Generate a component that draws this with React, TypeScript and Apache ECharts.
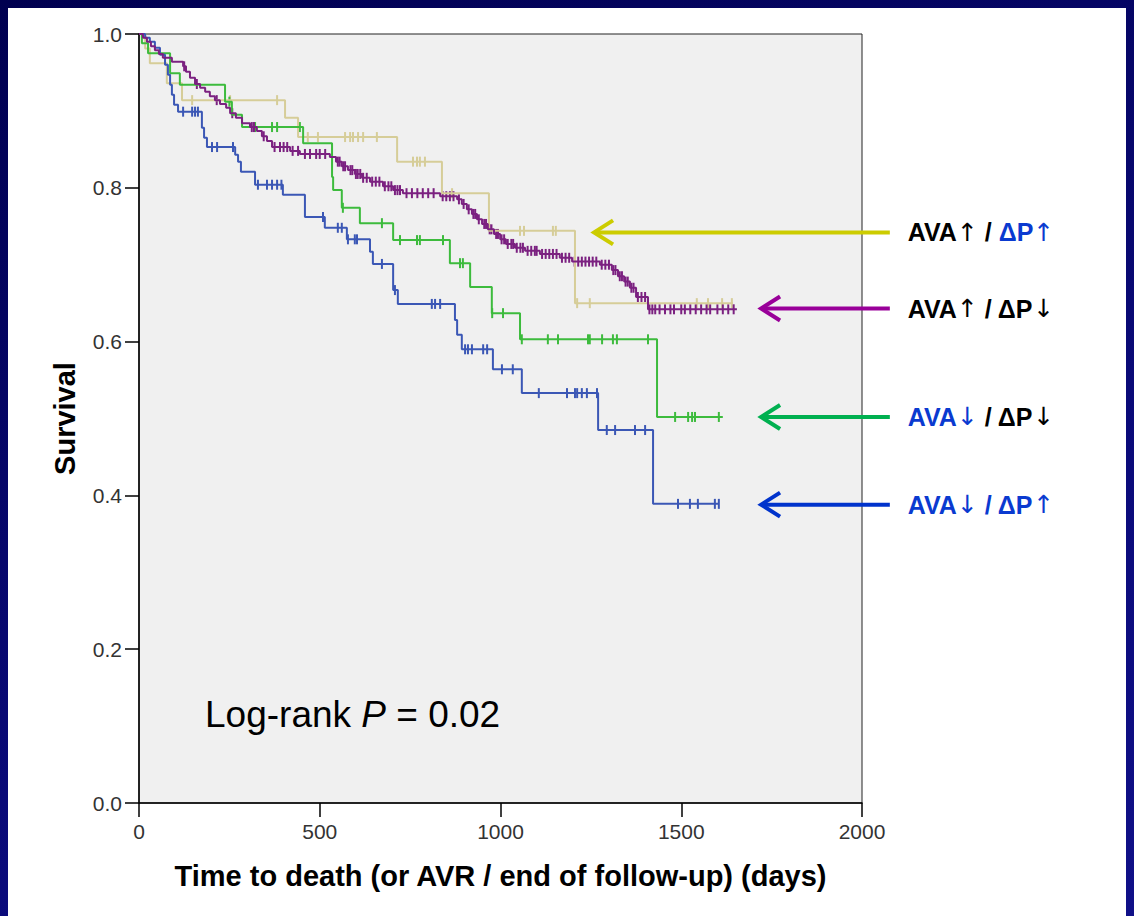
import React, { useEffect, useRef } from 'react';
import * as echarts from 'echarts';

const FONT = '"Liberation Sans", Arial, Helvetica, sans-serif';
const ARROW_FONT = '"DejaVu Sans", sans-serif';

// ---- Kaplan-Meier step data (days, survival) ----
const khakiTimes = [0, 17, 30, 77, 119, 404, 440, 714, 838, 968, 1206, 1643];
const khakiSurv = [1, 0.981, 0.962, 0.936, 0.914, 0.891, 0.866, 0.834, 0.793, 0.744, 0.65, 0.65];
const khakiCensor = [147, 252, 382, 467, 495, 570, 584, 592, 606, 620, 658, 758, 769, 777, 791, 866, 1054, 1065, 1145, 1153, 1212, 1247, 1543, 1574, 1613, 1640];

const purpleTimes = [0, 11, 22, 33, 44, 55, 66, 91, 122, 130, 141, 155, 169, 183, 196, 210, 224, 241, 252, 268, 285, 307, 326, 340, 354, 368, 418, 445, 528, 545, 561, 578, 597, 617, 639, 675, 703, 730, 833, 880, 893, 907, 921, 935, 949, 965, 982, 999, 1015, 1040, 1068, 1109, 1164, 1198, 1275, 1308, 1325, 1342, 1358, 1375, 1408, 1654];
const purpleSurv = [1, 0.995, 0.99, 0.984, 0.979, 0.974, 0.969, 0.964, 0.958, 0.951, 0.943, 0.935, 0.93, 0.925, 0.919, 0.914, 0.909, 0.904, 0.897, 0.891, 0.884, 0.879, 0.874, 0.867, 0.861, 0.853, 0.848, 0.844, 0.84, 0.834, 0.828, 0.823, 0.818, 0.813, 0.808, 0.802, 0.797, 0.793, 0.789, 0.785, 0.779, 0.772, 0.766, 0.759, 0.753, 0.746, 0.74, 0.733, 0.727, 0.722, 0.718, 0.714, 0.709, 0.704, 0.7, 0.693, 0.685, 0.678, 0.67, 0.658, 0.642, 0.642];
const purpleCensor = [125, 160, 215, 258, 312, 318, 345, 375, 390, 400, 410, 425, 440, 459, 473, 490, 500, 515, 550, 555, 565, 570, 585, 590, 600, 605, 612, 620, 630, 645, 655, 665, 680, 690, 698, 708, 715, 722, 740, 755, 770, 785, 800, 815, 840, 850, 860, 870, 885, 898, 912, 925, 930, 940, 955, 960, 970, 975, 988, 993, 1003, 1010, 1020, 1030, 1035, 1045, 1055, 1062, 1075, 1085, 1095, 1100, 1115, 1125, 1135, 1145, 1155, 1170, 1180, 1190, 1205, 1215, 1225, 1235, 1245, 1255, 1265, 1280, 1290, 1300, 1312, 1318, 1330, 1336, 1346, 1352, 1362, 1368, 1380, 1390, 1400, 1412, 1420, 1428, 1440, 1455, 1470, 1480, 1500, 1510, 1525, 1540, 1555, 1570, 1580, 1600, 1615, 1630, 1645];

const greenTimes = [0, 8, 25, 86, 113, 238, 257, 285, 454, 534, 537, 561, 611, 703, 860, 916, 976, 1054, 1433, 1615];
const greenSurv = [1, 0.988, 0.975, 0.949, 0.934, 0.912, 0.895, 0.879, 0.858, 0.814, 0.797, 0.774, 0.754, 0.732, 0.702, 0.671, 0.637, 0.603, 0.502, 0.502];
const greenCensor = [250, 321, 368, 382, 445, 564, 672, 722, 769, 777, 841, 888, 896, 977, 1007, 1059, 1131, 1159, 1242, 1247, 1281, 1311, 1322, 1408, 1483, 1519, 1530, 1538, 1604];

const blueTimes = [0, 17, 30, 44, 58, 72, 80, 86, 91, 97, 108, 174, 180, 188, 266, 274, 282, 321, 398, 459, 514, 575, 639, 647, 703, 716, 874, 880, 893, 979, 1059, 1270, 1422, 1604];
const blueSurv = [1, 0.995, 0.99, 0.982, 0.973, 0.96, 0.947, 0.934, 0.921, 0.908, 0.899, 0.878, 0.865, 0.853, 0.843, 0.834, 0.821, 0.804, 0.791, 0.762, 0.748, 0.733, 0.717, 0.701, 0.667, 0.649, 0.628, 0.609, 0.59, 0.564, 0.533, 0.485, 0.389, 0.389];
const blueCensor = [122, 147, 155, 163, 202, 216, 260, 329, 354, 368, 382, 394, 509, 550, 561, 578, 597, 603, 672, 708, 810, 819, 833, 902, 910, 921, 952, 963, 1004, 1034, 1106, 1184, 1206, 1212, 1225, 1239, 1267, 1294, 1317, 1372, 1400, 1491, 1524, 1546, 1593, 1604];

// ---- axis ticks ----
const xTickValues = [0, 500, 1000, 1500, 2000];
const yTickValues = [0, 0.2, 0.4, 0.6, 0.8, 1.0];

// ---- annotations ----
const arrowLevels = [0.742, 0.643, 0.502, 0.388];
const arrowTipDays = [1256, 1718, 1718, 1718];
const arrowTailDay = 2077;
const arrowColors = ['#cccc00', '#990099', '#00b050', '#0033cc'];
const arrowLabels = [
  '{k|AVA}{ka|↑}{k| / }{b|ΔP}{ba|↑}',
  '{k|AVA}{ka|↑}{k| / ΔP}{ka|↓}',
  '{b|AVA}{ba|↓}{k| / ΔP}{ka|↓}',
  '{b|AVA}{ba|↓}{b| / ΔP}{ba|↑}',
];

const COLORS = {
  khaki: '#d6cd98',
  purple: '#7b2180',
  green: '#3dbb3d',
  blue: '#3b57b5',
};

function survAt(times: number[], surv: number[], t: number) {
  let v = surv[0];
  for (let i = 0; i < times.length; i++) {
    if (times[i] <= t) v = surv[i];
  }
  return v;
}

function stepSeries(name: string, times: number[], surv: number[], color: string) {
  return {
    name,
    type: 'line',
    step: 'end',
    showSymbol: false,
    symbol: 'none',
    data: times.map((t, i) => [t, surv[i]]),
    lineStyle: { color, width: 2 },
    itemStyle: { color },
    silent: true,
  };
}

function censorSeries(name: string, times: number[], surv: number[], censor: number[], color: string) {
  return {
    name: name + ' censored',
    type: 'scatter',
    symbol: 'rect',
    symbolSize: [2, 10],
    data: censor.map((t) => [t, survAt(times, surv, t)]),
    itemStyle: { color, opacity: 1 },
    silent: true,
  };
}

export default function App() {
  const ref = useRef<HTMLDivElement>(null);

  useEffect(() => {
    if (!ref.current) return;
    const chart = echarts.init(ref.current, undefined, { renderer: 'svg' });
    const option: any = {
      animation: false,
      backgroundColor: 'transparent',
      grid: {
        left: 139,
        top: 34,
        right: 272,
        bottom: 113,
        show: true,
        backgroundColor: '#f0f0f0',
        borderColor: '#222',
        borderWidth: 1,
      },
      xAxis: {
        type: 'value',
        min: xTickValues[0],
        max: xTickValues[xTickValues.length - 1],
        interval: 500,
        axisLine: { show: true, onZero: false, lineStyle: { color: '#000', width: 1.5 } },
        axisTick: { show: true, length: 14, lineStyle: { color: '#000', width: 1.5 } },
        axisLabel: {
          color: '#333',
          fontSize: 21,
          fontFamily: FONT,
          margin: 18,
          formatter: (v: number) => String(v),
        },
        splitLine: { show: false },
        name: 'Time to death (or AVR / end of follow-up) (days)',
        nameLocation: 'middle',
        nameGap: 58,
        nameTextStyle: { fontSize: 29, fontWeight: 'bold', color: '#000', fontFamily: FONT },
      },
      yAxis: {
        type: 'value',
        min: yTickValues[0],
        max: yTickValues[yTickValues.length - 1],
        interval: 0.2,
        axisLine: { show: true, onZero: false, lineStyle: { color: '#000', width: 1.5 } },
        axisTick: { show: true, length: 14, lineStyle: { color: '#000', width: 1.5 } },
        axisLabel: {
          color: '#333',
          fontSize: 21,
          fontFamily: FONT,
          margin: 17,
          formatter: (v: number) => v.toFixed(1),
        },
        splitLine: { show: false },
        name: 'Survival',
        nameLocation: 'middle',
        nameGap: 60,
        nameTextStyle: { fontSize: 29, fontWeight: 'bold', color: '#000', fontFamily: FONT },
      },
      series: [
        stepSeries('AVA↑ / ΔP↑', khakiTimes, khakiSurv, COLORS.khaki),
        censorSeries('AVA↑ / ΔP↑', khakiTimes, khakiSurv, khakiCensor, COLORS.khaki),
        stepSeries('AVA↓ / ΔP↓', greenTimes, greenSurv, COLORS.green),
        censorSeries('AVA↓ / ΔP↓', greenTimes, greenSurv, greenCensor, COLORS.green),
        stepSeries('AVA↓ / ΔP↑', blueTimes, blueSurv, COLORS.blue),
        censorSeries('AVA↓ / ΔP↑', blueTimes, blueSurv, blueCensor, COLORS.blue),
        stepSeries('AVA↑ / ΔP↓', purpleTimes, purpleSurv, COLORS.purple),
        censorSeries('AVA↑ / ΔP↓', purpleTimes, purpleSurv, purpleCensor, COLORS.purple),
      ],
    };
    chart.setOption(option);

    const graphics: any[] = [];
    const lr = chart.convertToPixel({ gridIndex: 0 }, [0, 0.115]) as number[];
    graphics.push({
      type: 'text',
      x: 205,
      y: lr[1],
      style: {
        text: '{a|Log-rank }{i|P}{a| = 0.02}',
        verticalAlign: 'middle',
        rich: {
          a: { fontSize: 37, fontFamily: FONT, fill: '#000' },
          i: { fontSize: 37, fontFamily: FONT, fontStyle: 'italic', fill: '#000' },
        },
      },
      z: 100,
    });
    arrowLevels.forEach((lvl, i) => {
      const tip = chart.convertToPixel({ gridIndex: 0 }, [arrowTipDays[i], lvl]) as number[];
      const tail = chart.convertToPixel({ gridIndex: 0 }, [arrowTailDay, lvl]) as number[];
      const c = arrowColors[i];
      graphics.push({
        type: 'line',
        shape: { x1: tip[0] + 2, y1: tip[1], x2: tail[0], y2: tail[1] },
        style: { stroke: c, lineWidth: 4 },
        z: 100,
      });
      graphics.push({
        type: 'polyline',
        shape: { points: [[tip[0] + 20, tip[1] - 12], [tip[0] + 1, tip[1]], [tip[0] + 20, tip[1] + 12]] },
        style: { stroke: c, lineWidth: 4, fill: null, lineJoin: 'miter' },
        z: 100,
      });
      graphics.push({
        type: 'text',
        x: tail[0] + 18,
        y: tip[1],
        style: {
          text: arrowLabels[i],
          verticalAlign: 'middle',
          rich: {
            k: { fontSize: 25, fontWeight: 'bold', fontFamily: FONT, fill: '#000' },
            b: { fontSize: 25, fontWeight: 'bold', fontFamily: FONT, fill: '#0a3ad0' },
            ka: { fontSize: 25, fontFamily: ARROW_FONT, fill: '#000' },
            ba: { fontSize: 25, fontFamily: ARROW_FONT, fill: '#0a3ad0' },
          },
        },
        z: 100,
      });
    });
    chart.setOption({ graphic: graphics });

    return () => chart.dispose();
  }, []);

  return (
    <div
      style={{
        position: 'fixed',
        left: 0,
        top: 0,
        width: 1134,
        height: 916,
        background: 'linear-gradient(160deg, #000050 0%, #0a0a78 60%, #101088 100%)',
        overflow: 'hidden',
      }}
    >
      <div
        style={{
          position: 'absolute',
          left: 8,
          top: 8,
          width: 1118,
          height: 908,
          background: '#ffffff',
        }}
      />
      <div ref={ref} style={{ position: 'absolute', left: 0, top: 0, width: 1134, height: 916 }} />
    </div>
  );
}
